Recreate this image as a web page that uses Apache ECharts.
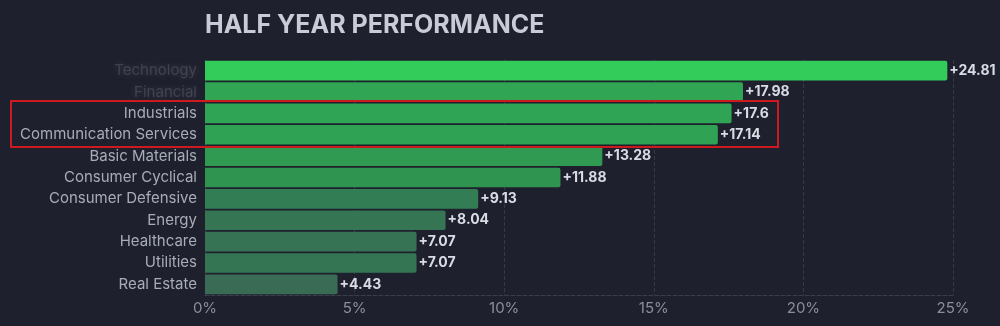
<!DOCTYPE html>
<html>
<head>
<meta charset="utf-8">
<script src="https://cdn.jsdelivr.net/npm/echarts@6/dist/echarts.min.js"></script>
<style>
  html, body { margin: 0; padding: 0; background: #1e212d; }
  #chart { width: 1000px; height: 326px; }
</style>
</head>
<body>
<div id="chart"></div>
<script>
// Sector performance over the last six months, in percent
const sectors = [
  'Technology', 'Financial', 'Industrials', 'Communication Services',
  'Basic Materials', 'Consumer Cyclical', 'Consumer Defensive',
  'Energy', 'Healthcare', 'Utilities', 'Real Estate'
];
const performance = [24.81, 17.98, 17.6, 17.14, 13.28, 11.88, 9.13, 8.04, 7.07, 7.07, 4.43];
const barColors = [
  '#33cc5a', '#30a554', '#2fa454', '#2fa253', '#309a53', '#2f9450',
  '#337d55', '#357553', '#357354', '#347554', '#3a6b55'
];
const tickValues = [0, 5, 10, 15, 20, 25];
const highlighted = ['Industrials', 'Communication Services'];

const chart = echarts.init(document.getElementById('chart'));

const ySectors = sectors.slice().reverse();
const yValues = performance.slice().reverse();
const yColors = barColors.slice().reverse();

chart.setOption({
  backgroundColor: '#1e212d',
  animation: false,
  title: {
    text: 'HALF YEAR PERFORMANCE',
    left: 200,
    top: 8,
    textStyle: {
      color: '#c9ccd7',
      fontFamily: 'Inter, Roboto, sans-serif',
      fontWeight: 'bold',
      fontSize: 25
    }
  },
  grid: { left: 205, right: 47, top: 60, bottom: 31, containLabel: false },
  xAxis: {
    type: 'value',
    min: tickValues[0],
    max: tickValues[tickValues.length - 1],
    interval: 5,
    axisLine: { show: true, lineStyle: { color: '#3a3e4c', type: 'dashed' } },
    axisTick: { show: false },
    splitLine: { show: true, lineStyle: { color: '#363a48', type: 'dashed' } },
    axisLabel: {
      color: '#8b8f9c',
      fontFamily: 'Inter, Roboto, sans-serif',
      fontSize: 15,
      margin: 6,
      formatter: v => v + '%'
    }
  },
  yAxis: {
    type: 'category',
    data: ySectors,
    axisLine: { show: false },
    axisTick: { show: false },
    splitLine: { show: false },
    axisLabel: {
      color: '#a8acb8',
      fontFamily: 'Inter, Roboto, sans-serif',
      fontSize: 15,
      margin: 8,
      formatter: function (v, i) {
        return i >= ySectors.length - 2 ? '{obscured|' + v + '}' : v;
      },
      rich: {
        obscured: {
          color: 'rgba(150,152,165,0.25)',
          fontSize: 15,
          textShadowColor: 'rgba(170,172,185,0.9)',
          textShadowBlur: 7
        }
      }
    }
  },
  series: [{
    type: 'bar',
    data: yValues.map((v, i) => ({ value: v, itemStyle: { color: yColors[i] } })),
    barCategoryGap: '8%',
    itemStyle: { borderRadius: [0, 2, 2, 0] },
    label: {
      show: true,
      position: 'right',
      distance: 2,
      color: '#d9dce4',
      fontFamily: 'Inter, Roboto, sans-serif',
      fontWeight: 'bold',
      fontSize: 14,
      formatter: p => '+' + p.value
    }
  }]
});

// Red outline around the highlighted sectors
function drawHighlight() {
  const idx = highlighted.map(n => ySectors.indexOf(n));
  const yTop = chart.convertToPixel({ yAxisIndex: 0 }, Math.max(...idx));
  const yBot = chart.convertToPixel({ yAxisIndex: 0 }, Math.min(...idx));
  const half = 11.3;
  chart.setOption({
    graphic: [{
      type: 'rect',
      shape: { x: 11, y: yTop - half - 1, width: 767, height: (yBot - yTop) + 2 * half + 2 },
      style: { fill: 'none', stroke: '#cc1a1e', lineWidth: 2 },
      z: 100
    }]
  });
}
drawHighlight();
</script>
</body>
</html>
